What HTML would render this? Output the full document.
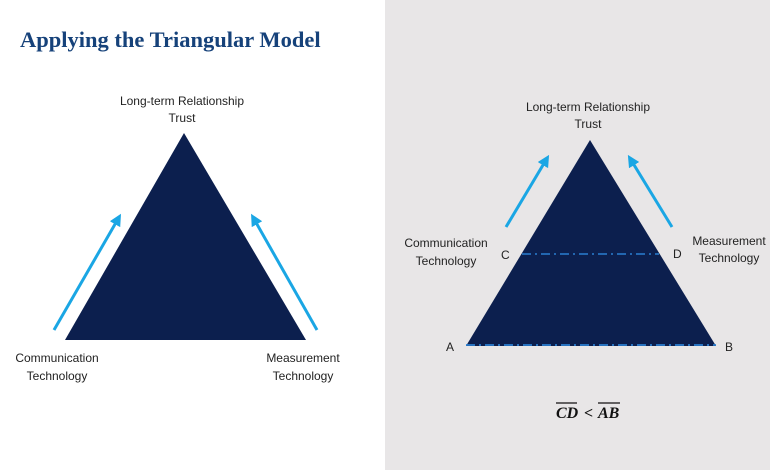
<!DOCTYPE html>
<html><head><meta charset="utf-8"><style>
html,body{margin:0;padding:0;width:770px;height:470px;overflow:hidden;background:#fff}
svg{display:block}
.t{font-family:"Liberation Sans",sans-serif;font-size:12px;fill:#222}
</style></head><body>
<svg width="770" height="470" viewBox="0 0 770 470" xmlns="http://www.w3.org/2000/svg">
<defs>
<marker id="ah" viewBox="0 0 10 10" refX="5" refY="5" markerWidth="4" markerHeight="4" orient="auto">
<path d="M0,0 L10,5 L0,10 z" fill="#1aa6e4"/></marker>
</defs>
<rect x="0" y="0" width="385" height="470" fill="#ffffff"/>
<rect x="385" y="0" width="385" height="470" fill="#e8e6e7"/>
<text x="20" y="47" font-family="Liberation Serif,serif" font-weight="bold" font-size="22.5" fill="#16427a">Applying the Triangular Model</text>

<!-- left -->
<text class="t" x="182" y="105" text-anchor="middle">Long-term Relationship</text>
<text class="t" x="182" y="122" text-anchor="middle">Trust</text>
<polygon points="184,133 65,340 306,340" fill="#0c1f4e"/>
<line x1="54" y1="330" x2="118" y2="219" stroke="#1aa6e4" stroke-width="3" marker-end="url(#ah)"/>
<line x1="317" y1="330" x2="254" y2="219" stroke="#1aa6e4" stroke-width="3" marker-end="url(#ah)"/>
<text class="t" x="57" y="362" text-anchor="middle">Communication</text>
<text class="t" x="57" y="380" text-anchor="middle">Technology</text>
<text class="t" x="303" y="362" text-anchor="middle">Measurement</text>
<text class="t" x="303" y="380" text-anchor="middle">Technology</text>

<!-- right -->
<text class="t" x="588" y="111" text-anchor="middle">Long-term Relationship</text>
<text class="t" x="588" y="128" text-anchor="middle">Trust</text>
<polygon points="590,140 466,346 716,346" fill="#0c1f4e"/>
<line x1="522" y1="254" x2="659" y2="254" stroke="#2a7fd0" stroke-width="1.5" stroke-dasharray="9,4,2,4"/>
<line x1="466" y1="345" x2="716" y2="345" stroke="#2a7fd0" stroke-width="1.8" stroke-dasharray="9,4,2,4"/>
<line x1="506" y1="227" x2="546" y2="160" stroke="#1aa6e4" stroke-width="3" marker-end="url(#ah)"/>
<line x1="672" y1="227" x2="631" y2="160" stroke="#1aa6e4" stroke-width="3" marker-end="url(#ah)"/>
<text class="t" x="446" y="247" text-anchor="middle">Communication</text>
<text class="t" x="446" y="265" text-anchor="middle">Technology</text>
<text class="t" x="729" y="245" text-anchor="middle">Measurement</text>
<text class="t" x="729" y="262" text-anchor="middle">Technology</text>
<text class="t" x="501" y="259" font-size="10">C</text>
<text class="t" x="673" y="258" font-size="10">D</text>
<text class="t" x="446" y="351" font-size="10">A</text>
<text class="t" x="725" y="351" font-size="10">B</text>
<g font-family="Liberation Serif,serif" font-weight="bold" font-style="italic" font-size="16" fill="#111">
<text x="556" y="418">CD</text>
<text x="584" y="418">&lt;</text>
<text x="598" y="418">AB</text>
</g>
<line x1="556" y1="403" x2="577" y2="403" stroke="#111" stroke-width="1.2"/>
<line x1="598" y1="403" x2="620" y2="403" stroke="#111" stroke-width="1.2"/>
</svg>
</body></html>
